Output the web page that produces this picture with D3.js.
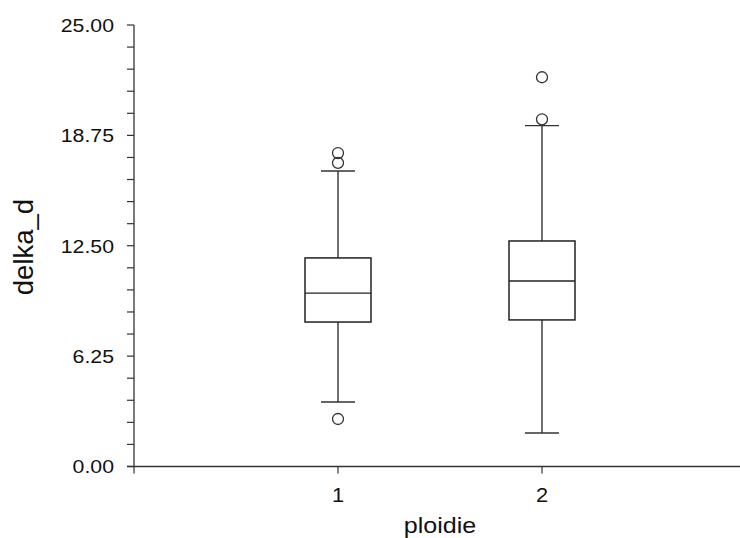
<!DOCTYPE html>
<html>
<head>
<meta charset="utf-8">
<script src="https://cdn.jsdelivr.net/npm/d3@7"></script>
<style>
  html, body { margin: 0; padding: 0; background: #fff; }
  svg { display: block; font-family: Arial, "Liberation Sans", sans-serif; }
</style>
</head>
<body>
<svg id="chart" width="740" height="538"></svg>
<script>
// Box-plot summary per ploidy group
const categories = ["1", "2"];
const whiskerLow = [3.65, 1.90];
const q1 = [8.18, 8.30];
const median = [9.82, 10.50];
const q3 = [11.81, 12.77];
const whiskerHigh = [16.73, 19.30];
const outliers = [[17.75, 17.19, 2.69], [22.04, 19.66]];
const yTicks = [0, 6.25, 12.5, 18.75, 25];

const svg = d3.select("#chart");
const ink = "#333";
const stretch = 1.12; // slightly wide lettering for horizontal labels

const x = d3.scaleLinear().domain([0, 3]).range([134, 746]);
const y = d3.scaleLinear().domain([0, 25]).range([466.5, 25]);

// y axis with minor ticks every 1.25
const yMinor = d3.range(0, 25.001, 1.25);
const yAxis = svg.append("g").attr("transform", `translate(${x(0)},0)`);
yAxis.append("line")
  .attr("x1", 0).attr("x2", 0).attr("y1", y(25)).attr("y2", y(0))
  .attr("stroke", ink).attr("stroke-width", 1.3);
yAxis.selectAll("line.tick").data(yMinor).join("line")
  .attr("class", "tick")
  .attr("x1", -7).attr("x2", 0)
  .attr("y1", d => y(d)).attr("y2", d => y(d))
  .attr("stroke", ink).attr("stroke-width", 1.2);
yAxis.selectAll("text").data(yTicks).join("text")
  .attr("transform", d => `translate(-20,${y(d)}) scale(${stretch},1)`)
  .attr("dy", "0.36em")
  .attr("text-anchor", "end").attr("font-size", 19).attr("fill", "#111")
  .text(d => d3.format(".2f")(d));

// x axis
const xVals = [0, 1, 2];
const xAxis = svg.append("g").attr("transform", `translate(0,${y(0)})`);
xAxis.append("line")
  .attr("x1", x(0) - 7).attr("x2", x(3)).attr("y1", 0).attr("y2", 0)
  .attr("stroke", ink).attr("stroke-width", 1.3);
xAxis.selectAll("line.tick").data(xVals).join("line")
  .attr("class", "tick")
  .attr("x1", d => x(d)).attr("x2", d => x(d))
  .attr("y1", 0).attr("y2", 7)
  .attr("stroke", ink).attr("stroke-width", 1.2);
xAxis.selectAll("text").data(categories).join("text")
  .attr("transform", (d, i) => `translate(${x(i + 1)},35.5) scale(${stretch},1)`)
  .attr("text-anchor", "middle").attr("font-size", 19.5).attr("fill", "#111")
  .text(d => d);

// axis titles
svg.append("text")
  .attr("transform", `translate(440,533) scale(1.14,1)`)
  .attr("text-anchor", "middle").attr("font-size", 22).attr("fill", "#111")
  .text("ploidie");
svg.append("text")
  .attr("transform", `translate(33,247) rotate(-90)`)
  .attr("text-anchor", "middle").attr("font-size", 27.5).attr("fill", "#111")
  .text("delka_d");

// boxes
const boxHalf = 33, capHalf = 17;
const groups = svg.append("g").selectAll("g").data(categories).join("g")
  .attr("transform", (d, i) => `translate(${x(i + 1)},0)`);

groups.append("line") // upper whisker
  .attr("x1", 0).attr("x2", 0)
  .attr("y1", (d, i) => y(q3[i])).attr("y2", (d, i) => y(whiskerHigh[i]))
  .attr("stroke", ink).attr("stroke-width", 1.4);
groups.append("line") // lower whisker
  .attr("x1", 0).attr("x2", 0)
  .attr("y1", (d, i) => y(q1[i])).attr("y2", (d, i) => y(whiskerLow[i]))
  .attr("stroke", ink).attr("stroke-width", 1.4);
groups.append("line") // upper cap
  .attr("x1", -capHalf).attr("x2", capHalf)
  .attr("y1", (d, i) => y(whiskerHigh[i])).attr("y2", (d, i) => y(whiskerHigh[i]))
  .attr("stroke", ink).attr("stroke-width", 1.4);
groups.append("line") // lower cap
  .attr("x1", -capHalf).attr("x2", capHalf)
  .attr("y1", (d, i) => y(whiskerLow[i])).attr("y2", (d, i) => y(whiskerLow[i]))
  .attr("stroke", ink).attr("stroke-width", 1.4);
groups.append("rect")
  .attr("x", -boxHalf).attr("width", boxHalf * 2)
  .attr("y", (d, i) => y(q3[i]))
  .attr("height", (d, i) => y(q1[i]) - y(q3[i]))
  .attr("fill", "#fff").attr("stroke", "#222").attr("stroke-width", 1.5);
groups.append("line") // median
  .attr("x1", -boxHalf).attr("x2", boxHalf)
  .attr("y1", (d, i) => y(median[i])).attr("y2", (d, i) => y(median[i]))
  .attr("stroke", "#222").attr("stroke-width", 1.4);
groups.each(function (d, i) {
  d3.select(this).selectAll("circle").data(outliers[i]).join("circle")
    .attr("cx", 0).attr("cy", v => y(v)).attr("r", 5.5)
    .attr("fill", "none").attr("stroke", ink).attr("stroke-width", 1.3);
});
</script>
</body>
</html>
